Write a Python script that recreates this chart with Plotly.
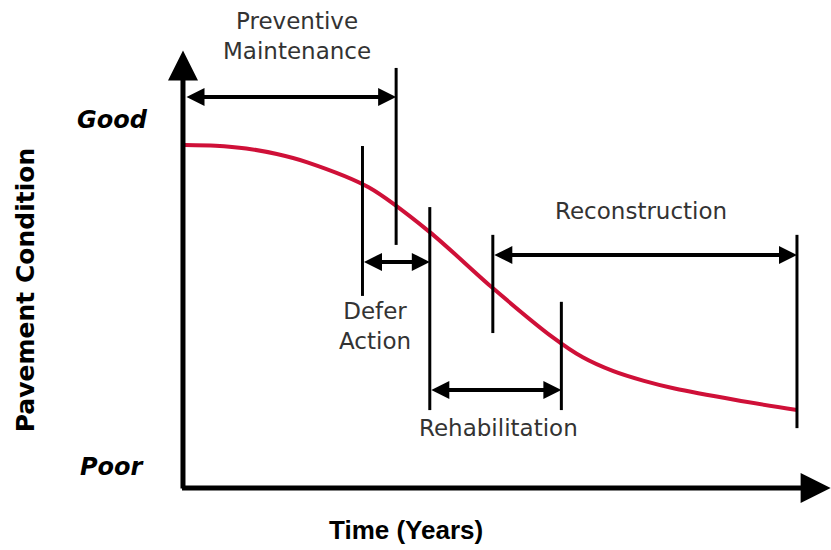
import plotly.graph_objects as go

# Pavement deterioration curve (time in years, condition index 0 = poor, 100 = good)
time_years = [0, 0.5, 1, 1.5, 2, 3, 4, 5, 6, 6.5, 7, 7.5, 8, 9, 10]
condition = [92.8, 92.6, 91.8, 90.2, 87.8, 80.6, 67.7, 52.0, 37.5, 31.6, 27.6, 24.8, 22.6, 19.3, 16.4]

# Treatment windows
treatments = ["Preventive<br>Maintenance", "Defer<br>Action", "Rehabilitation", "Reconstruction"]
window_start = [0.0, 2.9, 4.0, 5.03]
window_end = [3.45, 4.0, 6.15, 10.0]
window_level = [106.6, 59.1, 22.2, 61.1]
label_time = [1.83, 3.1, 5.13, 7.45]
label_level = [124.2, 40.6, 11.2, 73.8]

# Boundary markers (time, top, bottom)
marker_time = [3.45, 2.9, 4.0, 5.03, 6.15, 10.0]
marker_top = [115.0, 92.5, 74.9, 66.9, 47.6, 66.9]
marker_bottom = [64.0, 49.3, 16.4, 38.6, 16.4, 11.2]

# Condition scale labels
scale_values = [100, 0]
scale_labels = ["Good", "Poor"]

X_RANGE = [-3.023, 10.556]
Y_RANGE = [-23.92, 134.58]

fig = go.Figure()

fig.add_trace(go.Scatter(
    x=time_years, y=condition, mode="lines",
    line=dict(color="#cf1038", width=4, shape="spline", smoothing=0.8),
    hoverinfo="skip", showlegend=False,
))

mx, my = [], []
for t, top, bot in zip(marker_time, marker_top, marker_bottom):
    mx += [t, t, None]
    my += [top, bot, None]
fig.add_trace(go.Scatter(
    x=mx, y=my, mode="lines", line=dict(color="black", width=3),
    hoverinfo="skip", showlegend=False,
))

annotations = []

# Double-headed arrows spanning each treatment window
for s, e, lvl in zip(window_start, window_end, window_level):
    annotations.append(dict(
        x=e, y=lvl, ax=s, ay=lvl, xref="x", yref="y", axref="x", ayref="y",
        text="", showarrow=True, arrowhead=2, startarrowhead=2,
        arrowside="end+start", arrowsize=0.9, startarrowsize=0.9,
        arrowwidth=4, arrowcolor="black", standoff=0, startstandoff=0,
    ))

for txt, t, lvl in zip(treatments, label_time, label_level):
    annotations.append(dict(
        x=t, y=lvl, xref="x", yref="y", text=txt, showarrow=False,
        font=dict(family="DejaVu Sans", size=23, color="#333333"),
        align="center",
    ))

# Axes drawn as arrows
axis_x0 = -0.033
axis_y0 = -6.05
annotations.append(dict(
    x=axis_x0, y=120.0, ax=axis_x0, ay=axis_y0 - 0.6, xref="x", yref="y",
    axref="x", ayref="y", text="", showarrow=True, arrowhead=2,
    arrowsize=1.2, arrowwidth=5, arrowcolor="black", standoff=0,
))
annotations.append(dict(
    x=10.55, y=axis_y0, ax=axis_x0 - 0.04, ay=axis_y0, xref="x", yref="y",
    axref="x", ayref="y", text="", showarrow=True, arrowhead=2,
    arrowsize=1.2, arrowwidth=5, arrowcolor="black", standoff=0,
))

for v, lab in zip(scale_values, scale_labels):
    annotations.append(dict(
        x=-1.18, y=v, xref="x", yref="y", text=f"<b><i>{lab}</i></b>",
        showarrow=False, font=dict(family="DejaVu Sans", size=24, color="black"),
    ))

annotations.append(dict(
    x=-2.61, y=51.0, xref="x", yref="y", text="<b>Pavement Condition</b>",
    showarrow=False, textangle=-90,
    font=dict(family="DejaVu Sans", size=25, color="black"),
))
annotations.append(dict(
    x=3.61, y=-18.2, xref="x", yref="y", text="<b>Time (Years)</b>",
    showarrow=False, font=dict(family="Liberation Sans", size=26, color="black"),
))

fig.update_layout(
    width=831, height=550,
    margin=dict(l=0, r=0, t=0, b=0),
    paper_bgcolor="white", plot_bgcolor="white",
    xaxis=dict(range=X_RANGE, visible=False, fixedrange=True),
    yaxis=dict(range=Y_RANGE, visible=False, fixedrange=True),
    annotations=annotations,
    showlegend=False,
)

fig.write_html("out.html")
